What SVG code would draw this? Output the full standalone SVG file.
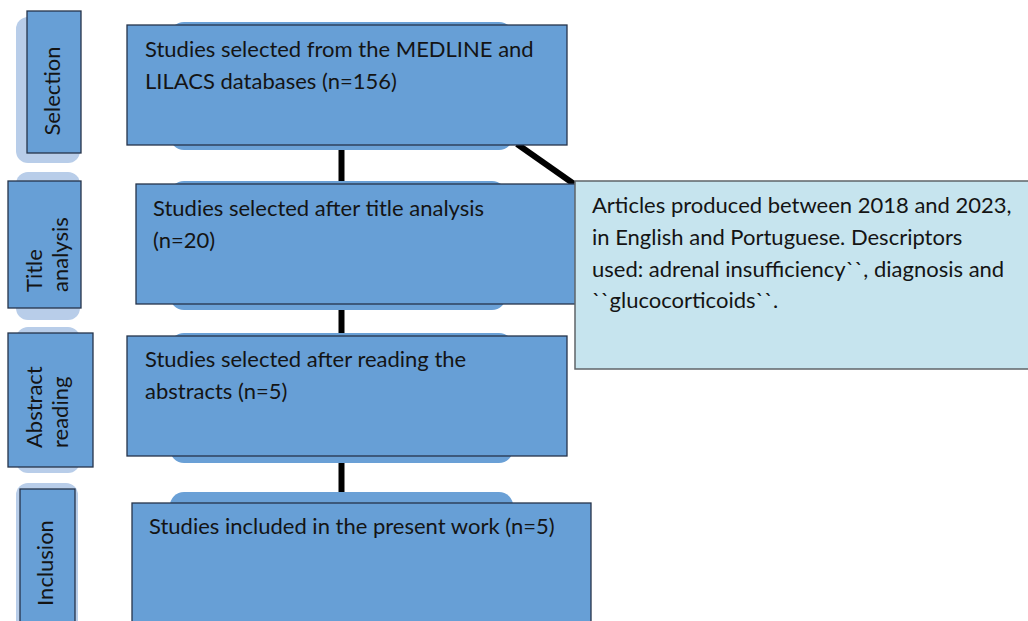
<svg xmlns="http://www.w3.org/2000/svg" width="1028" height="621" viewBox="0 0 1028 621">
<style>
.bg{fill:#b8cde9}
.side{fill:#679fd6;stroke:#26344a;stroke-width:1.3}
.sh{fill:#6aa0d6}
.box{fill:#679fd6;stroke:#26344a;stroke-width:1.3}
.info{fill:#c6e4ee;stroke:#5f6468;stroke-width:1.5}
.t{font-family:Lato,"Open Sans",sans-serif;font-size:22px;fill:#141414}
.c{stroke:#000;stroke-width:6;fill:none}
</style>
<rect width="1028" height="621" fill="#fff"/>
<g id="stage-selection">
<rect class="bg" x="16" y="17" width="64" height="146" rx="12"/>
<rect class="side" x="27" y="11" width="54" height="142"/>
<text class="t" transform="translate(60,91) rotate(-90)" text-anchor="middle">Selection</text>
</g>
<g id="stage-title">
<rect class="bg" x="16" y="172" width="64" height="148" rx="12"/>
<rect class="side" x="8" y="181" width="73" height="127"/>
<text class="t" transform="translate(42,292) rotate(-90)">Title</text>
<text class="t" transform="translate(68,292) rotate(-90)">analysis</text>
</g>
<g id="stage-abstract">
<rect class="bg" x="16" y="327" width="64" height="146" rx="12"/>
<rect class="side" x="8" y="333" width="85" height="134"/>
<text class="t" transform="translate(42,448) rotate(-90)">Abstract</text>
<text class="t" transform="translate(68,448) rotate(-90)">reading</text>
</g>
<g id="stage-inclusion">
<rect class="bg" x="16" y="483" width="62" height="160" rx="12"/>
<rect class="side" x="20" y="489" width="55" height="150"/>
<text class="t" transform="translate(53,563) rotate(-90)" text-anchor="middle">Inclusion</text>
</g>
<g id="connectors">
<line class="c" x1="341.5" y1="145" x2="341.5" y2="184"/>
<line class="c" x1="341.5" y1="304" x2="341.5" y2="336"/>
<line class="c" x1="341.5" y1="456" x2="341.5" y2="503"/>
<line class="c" x1="517" y1="144" x2="574" y2="184" stroke-width="5"/>
</g>
<g id="box-selection">
<rect class="sh" x="170" y="22" width="343" height="128" rx="14"/>
<rect class="box" x="127" y="25" width="440" height="120"/>
<text class="t" x="145" y="57">Studies selected from the MEDLINE and</text>
<text class="t" x="145" y="89">LILACS databases (n=156)</text>
</g>
<g id="box-title">
<rect class="sh" x="170" y="181" width="336" height="129" rx="14"/>
<rect class="box" x="136" y="184" width="440" height="120"/>
<text class="t" x="153" y="216">Studies selected after title analysis</text>
<text class="t" x="153" y="248">(n=20)</text>
</g>
<g id="box-abstract">
<rect class="sh" x="170" y="333" width="343" height="130" rx="14"/>
<rect class="box" x="127" y="336" width="440" height="120"/>
<text class="t" x="145" y="367">Studies selected after reading the</text>
<text class="t" x="145" y="399">abstracts (n=5)</text>
</g>
<g id="box-inclusion">
<rect class="sh" x="170" y="492" width="343" height="140" rx="14"/>
<rect class="box" x="132" y="503" width="459" height="130"/>
<text class="t" x="149" y="534">Studies included in the present work (n=5)</text>
</g>
<g id="info">
<rect class="info" x="575" y="181" width="460" height="188"/>
<text class="t" x="592" y="213">Articles produced between 2018 and 2023,</text>
<text class="t" x="592" y="245">in English and Portuguese. Descriptors</text>
<text class="t" x="592" y="277">used: adrenal insufficiency``, diagnosis and</text>
<text class="t" x="592" y="308">``glucocorticoids``.</text>
</g>
</svg>
